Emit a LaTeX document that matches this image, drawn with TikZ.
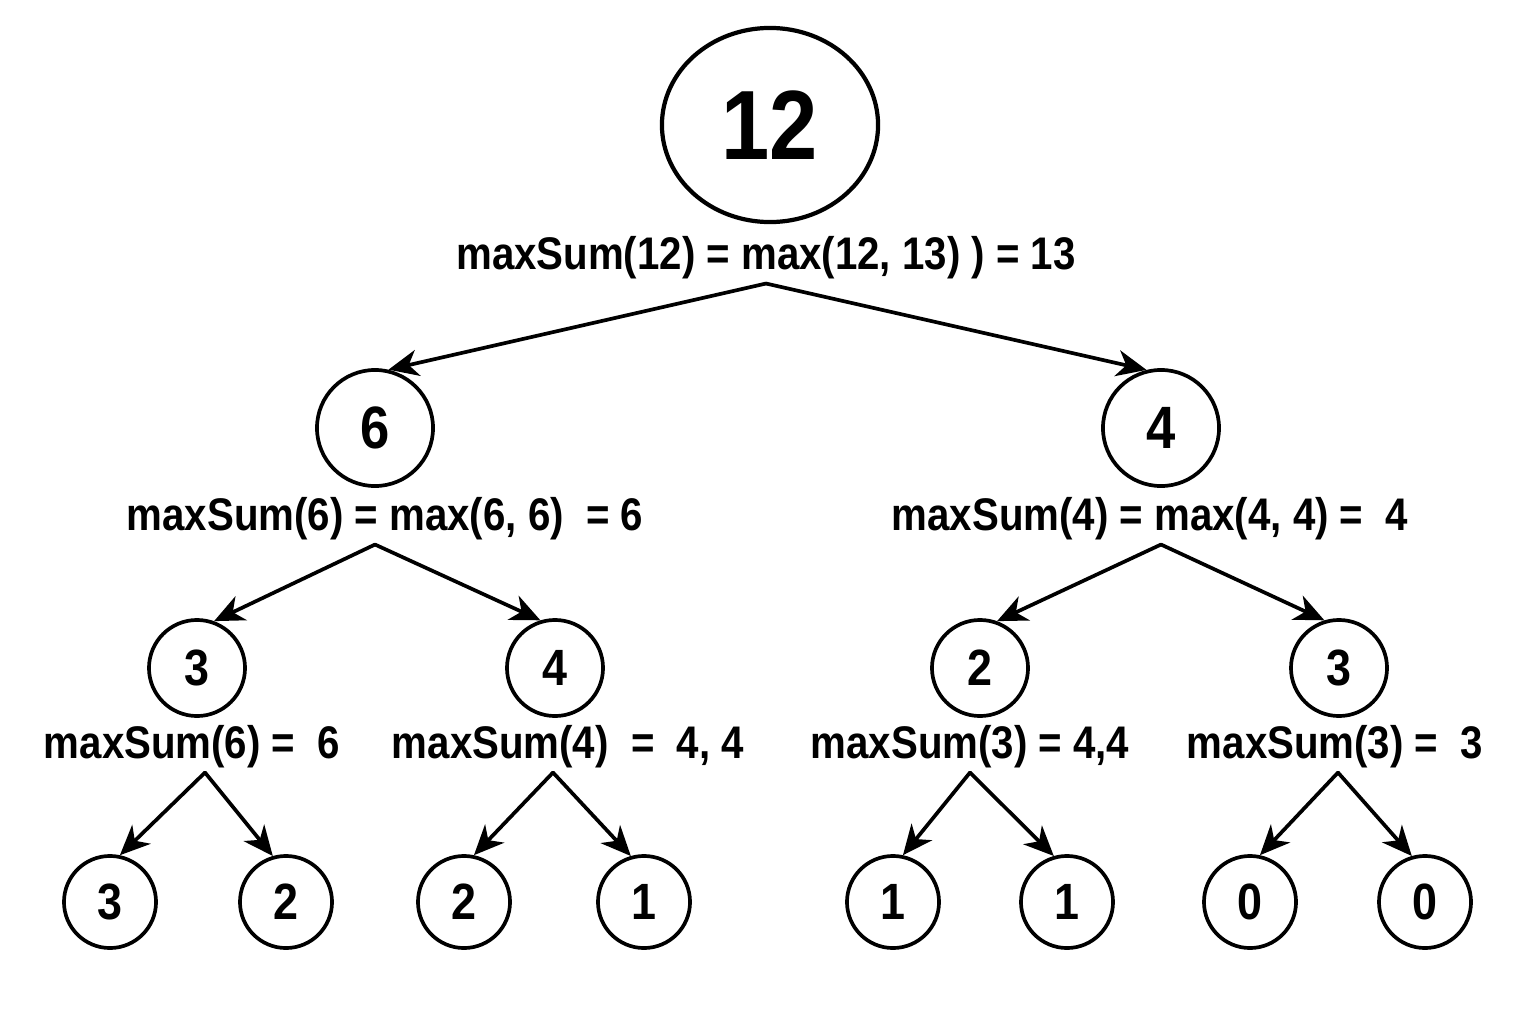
\documentclass[tikz,border=0pt]{standalone}
\usepackage{fontspec}
\setmainfont[FakeStretch=0.88]{Liberation Sans}
\usetikzlibrary{shapes.geometric, arrows.meta}
\begin{document}
\begin{tikzpicture}[x=0.01cm, y=-0.01cm, line join=round, line cap=round, >={Stealth[length=8.5pt, width=7.5pt, inset=2.6pt]},
    nd/.style={circle, draw, line width=1.05pt, inner sep=0pt, font=\fontsize{14.5}{16}\selectfont\bfseries},
    lbl/.style={inner sep=1pt, font=\fontsize{13}{15}\selectfont\bfseries},
    arr/.style={->, line width=1.05pt}]
    \useasboundingbox (0,0) rectangle (1536,1024);
    % ============= GỐC
    \node[nd, ellipse, line width=1.2pt, minimum width=2.16cm, minimum height=1.94cm, font=\fontsize{28}{30}\selectfont\bfseries] (r) at (770,125) {12};
    \node[lbl] (lr) at (766,258) {maxSum(12) = max(12, 13) ) = 13};
    % ============= TẦNG 1
    \node[nd, minimum size=1.16cm, font=\fontsize{17}{19}\selectfont\bfseries] (a) at (375,428) {6};
    \node[nd, minimum size=1.16cm, font=\fontsize{17}{19}\selectfont\bfseries] (b) at (1161,428) {4};
    \node[lbl] (la) at (385,519) {maxSum(6) = max(6, 6) \ = 6};
    \node[lbl] (lb) at (1150,519) {maxSum(4) = max(4, 4) = \ 4};
    \draw[arr] (lr.south) -- (a.77);
    \draw[arr] (lr.south) -- (b.104);
    % ============= TẦNG 2
    \foreach \n/\x/\t in {aa/197/3, ab/555/4, ba/980/2, bb/1339/3}{
        \node[nd, minimum size=0.96cm] (\n) at (\x,668) {\t};}
    \node[lbl] (laa) at (192,747) {maxSum(6) = \ 6};
    \node[lbl] (lab) at (568,747) {maxSum(4) \ = \ 4, 4};
    \node[lbl] (lba) at (970,747) {maxSum(3) = 4,4};
    \node[lbl] (lbb) at (1335,747) {maxSum(3) = \ 3};
    \foreach \p/\l in {a/a, b/b}{
        \draw[arr] (\p |- l\p.south) -- (\l a.70);
        \draw[arr] (\p |- l\p.south) -- (\l b.107);}
    % ============= TẦNG 3
    \foreach \n/\x/\t in {aa1/110/3, aa2/286/2, ab1/464/2, ab2/644/1, ba1/893/1, ba2/1067/1, bb1/1250/0, bb2/1425/0}{
        \node[nd, minimum size=0.92cm] (\n) at (\x,902) {\t};}
    \coordinate (caa) at (205,0);
    \coordinate (cab) at (553,0);
    \coordinate (cba) at (970,0);
    \coordinate (cbb) at (1338,0);
    \foreach \p in {aa, ab, ba, bb}{
        \draw[arr] (c\p |- l\p.south) -- (\p1.78);
        \draw[arr] (c\p |- l\p.south) -- (\p2.106);}
\end{tikzpicture}
\end{document}
